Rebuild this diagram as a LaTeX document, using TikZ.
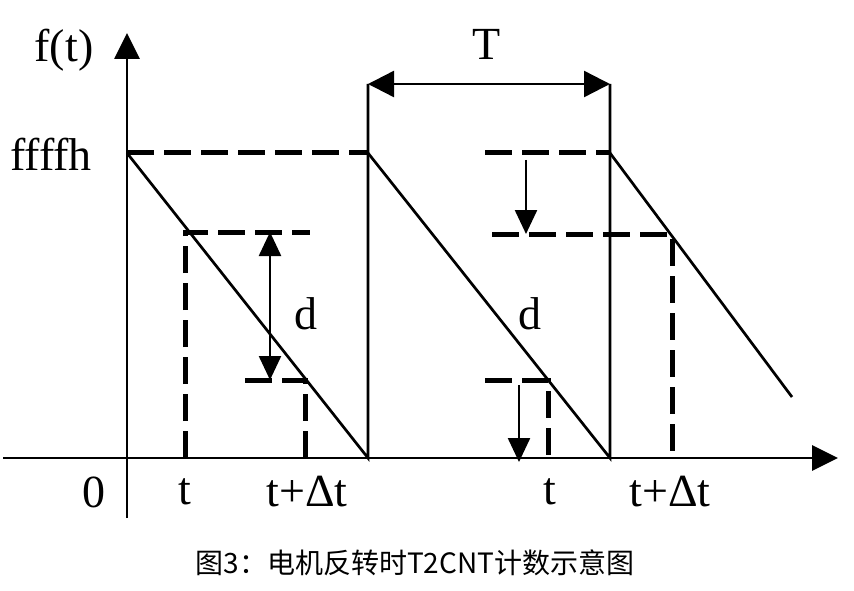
\documentclass[tikz,border=0pt]{standalone}
\usepackage{fontspec}
\setmainfont{Liberation Serif}
\newfontfamily\cjk{Noto Sans CJK SC}
\usetikzlibrary{arrows.meta}

\begin{document}
\begin{tikzpicture}[x=1pt,y=-1pt]
% estilos de linea
\tikzstyle{eje} = [line width=2.8pt,-{Triangle[length=26pt,width=25pt]}]
\tikzstyle{linea} = [line width=2.7pt]
\tikzstyle{trazos} = [line width=5pt,dash pattern=on 27pt off 10pt]
\tikzstyle{flecha} = [line width=2.4pt,-{Triangle[length=24pt,width=22pt]}]
\tikzstyle{cota} = [line width=2.4pt,{Triangle[length=26pt,width=26pt]}-{Triangle[length=26pt,width=26pt]}]
\tikzstyle{rotulo} = [font=\fontsize{46}{52}\selectfont,inner sep=0pt]
\useasboundingbox (0,0) rectangle (854,591);
% --------------------------------------
% puntos de referencia
\coordinate (O) at (127,458);
\coordinate (ysup) at (127,33);
\coordinate (yinf) at (127,518);
\coordinate (xizq) at (3,458);
\coordinate (xder) at (838,458);
\coordinate (A1) at (127,153);
\coordinate (B1) at (368,458);
\coordinate (A2) at (368,153);
\coordinate (B2) at (610,458);
\coordinate (A3) at (610,153);
\coordinate (B3) at (792,397);
\coordinate (T1) at (368,84);
\coordinate (T2) at (610,84);
% --------------------------------------
% dibujar ejes
\draw [eje] (yinf) -- (ysup);
\draw [eje] (xizq) -- (xder);
% dibujar diente de sierra
\draw [linea] (A1) -- (B1) -- (T1);
\draw [linea] (A2) -- (B2) -- (T2);
\draw [linea] (A3) -- (B3);
% cota del periodo
\draw [cota] (T1) -- (T2);
% dibujar lineas de trazos (primer diente)
\draw [trazos] (A1) -- (A2);
\coordinate (C1) at (185,232);
\coordinate (C2) at (310,232);
\coordinate (C3) at (185,458);
\draw [trazos] (C3) -- (C1) -- (C2);
\coordinate (D1) at (245,380);
\coordinate (D2) at (305,380);
\coordinate (D3) at (305,458);
\draw [trazos] (D1) -- (D2) -- (D3);
% cota d
\coordinate (E1) at (270,232);
\coordinate (E2) at (270,380);
\draw [cota,{Triangle[length=24pt,width=22pt]}-{Triangle[length=24pt,width=22pt]}] (E1) -- (E2);
% dibujar lineas de trazos (segundo diente)
\coordinate (F1) at (485,153);
\draw [trazos] (F1) -- (A3);
\coordinate (G1) at (492,234);
\coordinate (G2) at (672,234);
\coordinate (G3) at (672,458);
\draw [trazos] (G1) -- (G2) -- (G3);
\coordinate (H1) at (485,380);
\coordinate (H2) at (548,380);
\coordinate (H3) at (548,458);
\draw [trazos] (H1) -- (H2) -- (H3);
% flechas del segundo diente
\coordinate (K1) at (526,160);
\coordinate (K2) at (526,234);
\draw [flecha] (K1) -- (K2);
\coordinate (L1) at (519,385);
\coordinate (L2) at (519,462);
\draw [flecha] (L1) -- (L2);
% --------------------------------------
% rotulos
\node [rotulo] (ft) at (64,50) {f(t)};
\node [rotulo] (ffffh) at (51,154) {ffffh};
\node [rotulo] (cero) at (94,492) {0};
\node [rotulo] (t1) at (185,492) {t};
\node [rotulo] (tdt1) at (307,492) {t+Δt};
\node [rotulo] (t2) at (550,492) {t};
\node [rotulo] (tdt2) at (670,492) {t+Δt};
\node [rotulo] (per) at (487,44) {T};
\node [rotulo] (d1) at (306,314) {d};
\node [rotulo] (d2) at (530,314) {d};
\node [font=\cjk\fontsize{28}{32}\selectfont,inner sep=0pt] (titulo) at (415,563) {图3：电机反转时T2CNT计数示意图};
\end{tikzpicture}
\end{document}
